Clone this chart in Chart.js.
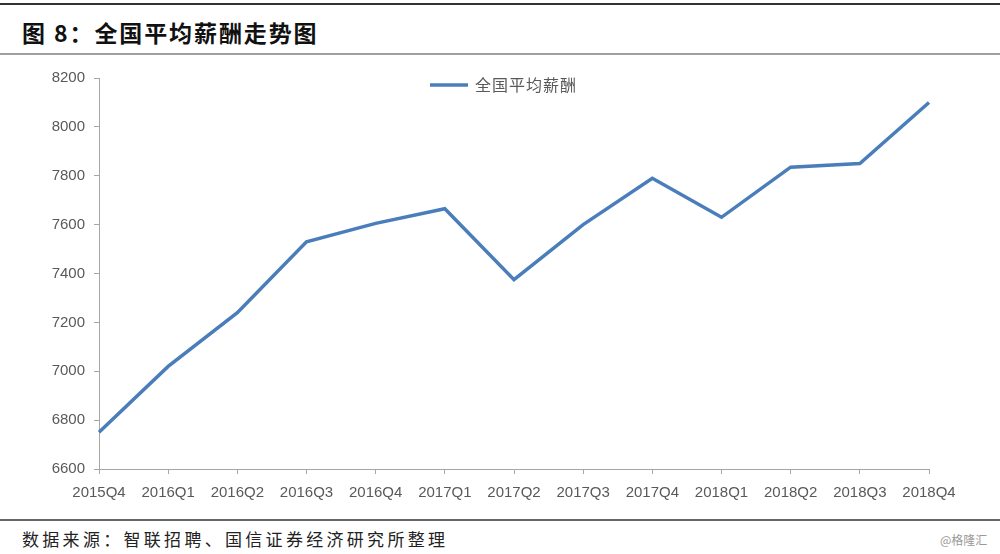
<!DOCTYPE html>
<html>
<head>
<meta charset="utf-8">
<script src="https://cdn.jsdelivr.net/npm/chart.js@4"></script>
<style>
    body { margin: 0; width: 1000px; height: 554px; background: #fff; position: relative; overflow: hidden; font-family: "Noto Sans CJK SC", sans-serif; }
    .rule { position: absolute; left: 0; width: 1000px; }
    #title { position: absolute; left: 22px; top: 16px; font-size: 23px; font-weight: bold; color: #111; letter-spacing: 1.9px; line-height: 32px; }
    #source { position: absolute; left: 22px; top: 527px; font-size: 17px; color: #222; letter-spacing: 3.3px; line-height: 24px; }
    #mark { position: absolute; left: 940px; top: 531px; font-size: 12px; color: #999; line-height: 18px; }
    #wrap { position: absolute; left: 0; top: 56px; width: 1000px; height: 454px; }
</style>
</head>
<body>
<div class="rule" style="top:3px;height:2px;background:#333;"></div>
<div id="title">图 8：全国平均薪酬走势图</div>
<div class="rule" style="top:53px;height:2px;background:#a0a0a0;"></div>
<div id="wrap"><canvas id="salaryChart"></canvas></div>
<div class="rule" style="top:519px;height:2px;background:#666;"></div>
<div id="source">数据来源：智联招聘、国信证券经济研究所整理</div>
<div id="mark">@格隆汇</div>
<script>
const quarters = ['2015Q4', '2016Q1', '2016Q2', '2016Q3', '2016Q4', '2017Q1', '2017Q2',
    '2017Q3', '2017Q4', '2018Q1', '2018Q2', '2018Q3', '2018Q4'];
const salary = [6750, 7020, 7240, 7530, 7605, 7665, 7375, 7600, 7790, 7630, 7835, 7850, 8100];
const yTicks = [6600, 6800, 7000, 7200, 7400, 7600, 7800, 8000, 8200];
const seriesName = '全国平均薪酬';

// legend sits inside the plot area, drawn by hand
const innerLegend = {
    id: 'innerLegend',
    afterDraw: function (chart) {
        const c = chart.ctx;
        const ds = chart.data.datasets[0];
        const x = 430, y = 29;
        c.save();
        c.strokeStyle = ds.borderColor;
        c.lineWidth = 3.5;
        c.beginPath();
        c.moveTo(x, y);
        c.lineTo(x + 38, y);
        c.stroke();
        c.fillStyle = '#595959';
        c.font = '16px "Noto Sans CJK SC"';
        c.textBaseline = 'middle';
        c.letterSpacing = '1px';
        c.fillText(ds.label, x + 45, y);
        c.restore();
    }
};

document.addEventListener('DOMContentLoaded', function () {
    const ctx = document.getElementById('salaryChart').getContext('2d');
    new Chart(ctx, {
        type: 'line',
        data: {
            labels: quarters,
            datasets: [{
                label: seriesName,
                data: salary,
                borderColor: '#4a7ebb',
                borderWidth: 3.5,
                fill: false,
                tension: 0,
                pointRadius: 0
            }]
        },
        options: {
            responsive: true,
            maintainAspectRatio: false,
            animation: false,
            layout: { padding: { top: 22, right: 71, left: 0, bottom: 0 } },
            plugins: {
                legend: { display: false },
                tooltip: { enabled: false }
            },
            scales: {
                x: {
                    offset: false,
                    grid: { drawOnChartArea: false, drawTicks: true, tickLength: 5, color: '#a6a6a6' },
                    border: { color: '#a6a6a6', width: 1 },
                    ticks: { color: '#595959', font: { family: 'Liberation Sans', size: 15 }, padding: 10, maxRotation: 0, autoSkip: false },
                    afterFit: function (scale) { scale.height = 41; }
                },
                y: {
                    min: 6600,
                    max: 8200,
                    afterBuildTicks: function (scale) {
                        scale.ticks = yTicks.map(function (v) { return { value: v }; });
                    },
                    grid: { drawOnChartArea: false, drawTicks: true, tickLength: 5, color: '#a6a6a6' },
                    border: { color: '#a6a6a6', width: 1 },
                    ticks: {
                        color: '#595959',
                        font: { family: 'Liberation Sans', size: 15 },
                        padding: 9,
                        callback: function (value) { return String(value); }
                    },
                    afterFit: function (scale) { scale.width = 99; }
                }
            }
        },
        plugins: [innerLegend]
    });
});
</script>
</body>
</html>
